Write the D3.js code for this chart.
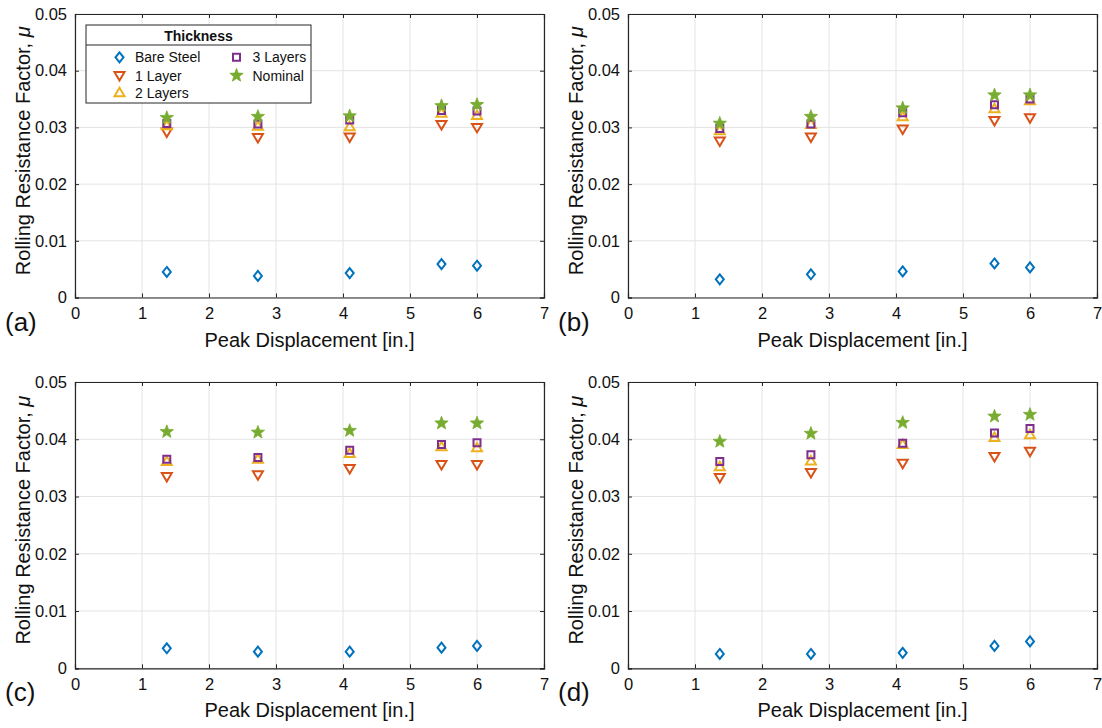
<!doctype html>
<html>
<head>
<meta charset="utf-8">
<title>Rolling resistance</title>
<script src="https://cdn.jsdelivr.net/npm/d3@7"></script>
<style>
  html, body { margin: 0; padding: 0; background: #fff; }
  svg { display: block; font-family: "Liberation Sans", Arial, Helvetica, sans-serif; }
</style>
</head>
<body>
<div id="chart"></div>
<script>
// peak displacement [in.] for each test
var displacement = [1.37, 2.73, 4.1, 5.47, 6.0];

// one row per panel (a)-(d)
var bareSteel = [
  [0.0045, 0.0038, 0.0043, 0.0059, 0.0056],
  [0.0032, 0.0041, 0.0046, 0.0060, 0.0053],
  [0.0035, 0.0029, 0.0029, 0.0036, 0.0039],
  [0.0025, 0.0025, 0.0027, 0.0039, 0.0047]
];
var oneLayer = [
  [0.0292, 0.0282, 0.0283, 0.0305, 0.0300],
  [0.0276, 0.0283, 0.0297, 0.0312, 0.0317],
  [0.0335, 0.0338, 0.0349, 0.0356, 0.0356],
  [0.0333, 0.0342, 0.0358, 0.0370, 0.0379]
];
var twoLayers = [
  [0.0303, 0.0302, 0.0301, 0.0325, 0.0321],
  [0.0294, 0.0305, 0.0319, 0.0333, 0.0347],
  [0.0361, 0.0365, 0.0375, 0.0387, 0.0385],
  [0.0352, 0.0362, 0.0391, 0.0403, 0.0408]
];
var threeLayers = [
  [0.0307, 0.0306, 0.0313, 0.0330, 0.0329],
  [0.0298, 0.0306, 0.0326, 0.0340, 0.0350],
  [0.0365, 0.0368, 0.0381, 0.0391, 0.0394],
  [0.0361, 0.0373, 0.0393, 0.0411, 0.0419]
];
var nominal = [
  [0.0317, 0.0319, 0.0320, 0.0338, 0.0340],
  [0.0307, 0.0319, 0.0334, 0.0357, 0.0357],
  [0.0413, 0.0412, 0.0415, 0.0428, 0.0428],
  [0.0396, 0.0410, 0.0429, 0.0440, 0.0443]
];

var seriesNames = ["Bare Steel", "1 Layer", "2 Layers", "3 Layers", "Nominal"];
var seriesColors = ["#0072BD", "#D95319", "#EDB120", "#7E2F8E", "#77AC30"];
var seriesShapes = ["diamond", "triDown", "triUp", "square", "star"];
var seriesData = [bareSteel, oneLayer, twoLayers, threeLayers, nominal];

var panelLabels = ["(a)", "(b)", "(c)", "(d)"];
var xTicks = [0, 1, 2, 3, 4, 5, 6, 7];
var yTicks = [0, 0.01, 0.02, 0.03, 0.04, 0.05];
var yTickLabels = ["0", "0.01", "0.02", "0.03", "0.04", "0.05"];

// marker outlines
function shapePath(shape) {
  if (shape === "diamond") return "M0,-5L4,0L0,5L-4,0Z";
  if (shape === "triDown") return "M-5,-3.5L5,-3.5L0,5Z";
  if (shape === "triUp") return "M-5,3.5L5,3.5L0,-5Z";
  if (shape === "square") return "M-3.5,-3.5H3.5V3.5H-3.5Z";
  // five point star
  var pts = [], R = 7, r = R * 0.42;
  for (var i = 0; i < 10; i++) {
    var a = -Math.PI / 2 + i * Math.PI / 5, rr = i % 2 ? r : R;
    pts.push([rr * Math.cos(a), rr * Math.sin(a)]);
  }
  return "M" + pts.map(function (p) { return p[0].toFixed(2) + "," + p[1].toFixed(2); }).join("L") + "Z";
}

function drawMarker(g, shape, color, x, y) {
  var p = g.append("path")
    .attr("d", shapePath(shape))
    .attr("transform", "translate(" + x + "," + y + ")");
  if (shape === "star") {
    p.attr("fill", color).attr("stroke", color).attr("stroke-width", 0.8);
  } else {
    p.attr("fill", "none").attr("stroke", color).attr("stroke-width", 2);
  }
}

var W = 1102, H = 728;
var svg = d3.select("#chart").append("svg").attr("width", W).attr("height", H);

var boxes = [
  { left: 75, top: 14, width: 469, height: 283.5 },
  { left: 628, top: 14, width: 469, height: 283.5 },
  { left: 75, top: 382, width: 469, height: 286.3 },
  { left: 628, top: 382, width: 469, height: 286.3 }
];

var axisColor = "#262626";

boxes.forEach(function (b, pi) {
  var x = d3.scaleLinear().domain([0, 7]).range([b.left, b.left + b.width]);
  var y = d3.scaleLinear().domain([0, 0.05]).range([b.top + b.height, b.top]);
  var g = svg.append("g");

  // grid
  g.selectAll(".gx").data(xTicks).join("line")
    .attr("x1", function (d) { return x(d); }).attr("x2", function (d) { return x(d); })
    .attr("y1", b.top).attr("y2", b.top + b.height)
    .attr("stroke", "#e3e3e3").attr("stroke-width", 1);
  g.selectAll(".gy").data(yTicks).join("line")
    .attr("y1", function (d) { return y(d); }).attr("y2", function (d) { return y(d); })
    .attr("x1", b.left).attr("x2", b.left + b.width)
    .attr("stroke", "#e3e3e3").attr("stroke-width", 1);

  // axes (inward ticks, box on)
  var bottom = g.append("g").attr("transform", "translate(0," + (b.top + b.height) + ")")
    .call(d3.axisBottom(x).tickValues(xTicks).tickSize(-4).tickPadding(10).tickFormat(d3.format("d")));
  var top = g.append("g").attr("transform", "translate(0," + b.top + ")")
    .call(d3.axisTop(x).tickValues(xTicks).tickSize(-4).tickFormat(""));
  var left = g.append("g").attr("transform", "translate(" + b.left + ",0)")
    .call(d3.axisLeft(y).tickValues(yTicks).tickSize(-4).tickPadding(8)
      .tickFormat(function (d, i) { return yTickLabels[i]; }));
  var right = g.append("g").attr("transform", "translate(" + (b.left + b.width) + ",0)")
    .call(d3.axisRight(y).tickValues(yTicks).tickSize(-4).tickFormat(""));
  [bottom, top, left, right].forEach(function (a) {
    a.select(".domain").attr("stroke", axisColor).attr("stroke-width", 1.2);
    a.selectAll(".tick line").attr("stroke", axisColor).attr("stroke-width", 1);
    a.selectAll(".tick text").attr("fill", "#111").attr("font-size", 16.5)
      .attr("font-family", "Liberation Sans, Arial, sans-serif");
  });

  // data
  seriesData.forEach(function (rows, si) {
    var mg = g.append("g");
    rows[pi].forEach(function (v, k) {
      drawMarker(mg, seriesShapes[si], seriesColors[si], x(displacement[k]), y(v));
    });
  });

  // axis titles
  g.append("text")
    .attr("x", b.left + b.width / 2).attr("y", b.top + b.height + 49)
    .attr("text-anchor", "middle").attr("font-size", 20).attr("fill", "#111")
    .text("Peak Displacement [in.]");
  var yl = g.append("text")
    .attr("transform", "translate(" + (b.left - 45.5) + "," + (b.top + b.height / 2 - 5) + ") rotate(-90)")
    .attr("text-anchor", "middle").attr("font-size", 20).attr("fill", "#111");
  yl.append("tspan").text("Rolling Resistance Factor, ");
  yl.append("tspan").attr("font-style", "italic").text("\u03bc");

  g.append("text")
    .attr("x", b.left - 70).attr("y", b.top + b.height + 33)
    .attr("font-size", 26).attr("fill", "#111")
    .text(panelLabels[pi]);
});

// legend in panel (a)
var lg = svg.append("g");
lg.append("rect").attr("x", 86).attr("y", 25).attr("width", 225).attr("height", 78)
  .attr("fill", "#fff").attr("stroke", axisColor).attr("stroke-width", 1);
lg.append("line").attr("x1", 86).attr("x2", 311).attr("y1", 45).attr("y2", 45)
  .attr("stroke", axisColor).attr("stroke-width", 1);
lg.append("text").attr("x", 198.5).attr("y", 40.5).attr("text-anchor", "middle")
  .attr("font-size", 14).attr("font-weight", "bold").attr("fill", "#111").text("Thickness");

var legendPos = [
  { mx: 119.5, tx: 135, cy: 57.3 },
  { mx: 119.5, tx: 135, cy: 75.5 },
  { mx: 119.5, tx: 135, cy: 92.8 },
  { mx: 236.5, tx: 252.5, cy: 57.3 },
  { mx: 236.5, tx: 252.5, cy: 75.5 }
];
seriesNames.forEach(function (name, si) {
  var p = legendPos[si];
  drawMarker(lg, seriesShapes[si], seriesColors[si], p.mx, p.cy);
  lg.append("text").attr("x", p.tx).attr("y", p.cy + 5)
    .attr("font-size", 14).attr("fill", "#111").text(name);
});
</script>
</body>
</html>
